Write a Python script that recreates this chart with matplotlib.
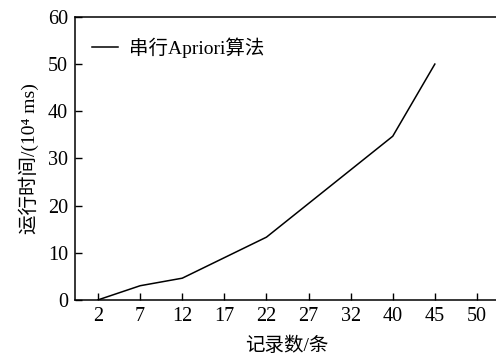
import matplotlib
matplotlib.use('Agg')
import matplotlib.pyplot as plt
import numpy as np

plt.rcParams['font.family'] = ['Liberation Serif', 'Noto Sans CJK SC']

# x tick labels (records), evenly spaced categories
labels = ['2', '7', '12', '17', '22', '27', '32', '40', '45', '50']
# serial Apriori run time points (label index, value in 10^4 ms)
pt_idx = [0, 1, 2, 4, 7, 8]
pt_val = [0, 3.0, 4.6, 13.3, 34.7, 50.0]

fig = plt.figure(figsize=(4.96, 3.6), dpi=100)
ax = fig.add_axes([0.151, 0.167, 0.853, 0.786])

ax.plot(pt_idx, pt_val, color='black', lw=1.1, label='串行Apriori算法')

ax.set_xlim(-0.55, 9.5)
ax.set_ylim(0, 60)
ax.set_xticks(np.arange(len(labels)))
ax.set_xticklabels(labels)
ax.set_yticks([0, 10, 20, 30, 40, 50, 60])
ax.tick_params(direction='in', labelsize=14.5, length=5, width=1, pad=5)
ax.set_xlabel('记录数/条', fontsize=14, labelpad=8)
ax.set_ylabel('运行时间/(10⁴ ms)', fontsize=14, labelpad=6)
for s in ax.spines.values():
    s.set_linewidth(1.1)

ax.legend(loc='upper left', frameon=False, fontsize=14, handlelength=1.3,
          handletextpad=0.6, bbox_to_anchor=(0.0, 0.99))

fig.savefig('out.png', dpi=100)
